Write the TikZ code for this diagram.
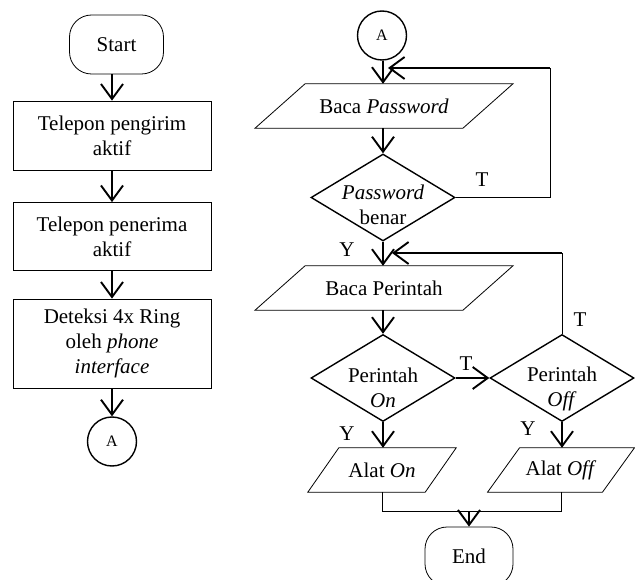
\documentclass[tikz,border=0pt]{standalone}
\usepackage{fontspec}
\setmainfont{Liberation Serif}
\usetikzlibrary{arrows.meta,shapes.geometric,calc}
\newcommand\parashape[2]{\draw[para] ($(#1.north west)+(#2,0)$) -- ($(#1.north east)+(#2,0)$) -- ($(#1.south east)-(#2,0)$) -- ($(#1.south west)-(#2,0)$) -- cycle;}
\begin{document}
\begin{tikzpicture}[x=1pt,y=-1pt,
 txt/.style={font=\fontsize{21}{25}\selectfont, align=center, inner sep=0pt},
 box/.style={txt, draw, line width=0.8pt, minimum width=198pt},
 term/.style={txt, draw, line width=0.8pt, rounded corners=22pt, minimum width=94pt, minimum height=59pt},
 conn/.style={txt, draw, circle, line width=1.4pt, minimum size=49pt, font=\fontsize{16}{18}\selectfont},
 dec/.style={draw, diamond, line width=1.4pt, minimum width=144pt, minimum height=87pt, inner sep=0pt},
 io/.style={txt, minimum height=44pt},
 para/.style={line width=0.8pt},
 arr/.style={line width=1.9pt, -{Straight Barb[length=15pt, width=22pt, line width=1.9pt]}},
 ln/.style={line width=0.8pt},
 lbl/.style={txt},
]
\clip (0,0) rectangle (635,580);
% left column
\node[term] (start) at (116.5,44.5) {Start};
\node[box, minimum height=69pt] (b1) at (112,135.5) {Telepon pengirim\\aktif};
\node[box, minimum height=68pt] (b2) at (112,236.5) {Telepon penerima\\aktif};
\node[box, minimum height=89pt] (b3) at (112,343.5) {Deteksi 4x Ring\\oleh \textit{phone}\\\textit{interface}};
\node[conn] (a1) at (112,441.5) {A};
\draw[arr] (start.south -| b1.north) -- (b1.north);
\draw[arr] (b1.south) -- (b2.north);
\draw[arr] (b2.south) -- (b3.north);
\draw[arr] (b3.south) -- (a1.north);
% right column
\node[conn] (a2) at (382,35.5) {A};
\node[io, minimum width=207.5pt] (bp) at (384,106) {Baca \textit{Password}};
\parashape{bp}{25}
\node[dec] (d1) at (383,197.5) {};
\node[txt] (d1t) at (383,205) {\textit{Password}\\benar};
\node[io, minimum width=207.5pt] (bpr) at (384,288) {Baca Perintah};
\parashape{bpr}{25}
\node[dec] (d2) at (383,378) {};
\node[txt] (d2t) at (383,388) {Perintah\\\textit{On}};
\node[dec] (d3) at (562,378) {};
\node[txt] (d3t) at (562,389) {Perintah\\\textit{Off}};
\node[io, minimum width=117pt] (ao) at (382,470) {Alat \textit{On}};
\parashape{ao}{15.5}
\node[io, minimum width=114.5pt] (af) at (561,470) {Alat \textit{Off}};
\parashape{af}{16}
\node[term, minimum width=88pt] (end) at (469,556.5) {End};
\draw[arr] (a2.south -| d1.north) -- (bp.north -| d1.north);
\draw[arr] (bp.south -| d1.north) -- (d1.north);
\draw[arr] (d1.south) -- (bpr.north -| d1.south);
\draw[arr] (bpr.south -| d2.north) -- (d2.north);
\draw[arr] (d2.east) -- (d3.west);
\draw[arr] (d2.south) -- (ao.north -| d2.south);
\draw[arr] (d3.south) -- (af.north -| d3.south);
% loops
\coordinate (l1) at (550,68);
\coordinate (l1t) at (388,68);
\draw[ln] (d1.east) -| (l1);
\draw[arr] (l1) -- (l1t);
\coordinate (l2) at (562,253);
\coordinate (l2t) at (392,253);
\draw[ln] (d3.north) -- (l2);
\draw[arr] (l2) -- (l2t);
% merge
\coordinate (m) at (469,511);
\draw[ln] (ao.south) |- (af.south |- m) -- (af.south);
\draw[arr] (m) -- (end.north);
% labels
\node[lbl] (t1) at (482,180) {T};
\node[lbl] (y1) at (347,250) {Y};
\node[lbl] (t2) at (466,364) {T};
\node[lbl] (t3) at (580,320) {T};
\node[lbl] (y2) at (347,434) {Y};
\node[lbl] (y3) at (528,429) {Y};
\end{tikzpicture}
\end{document}
